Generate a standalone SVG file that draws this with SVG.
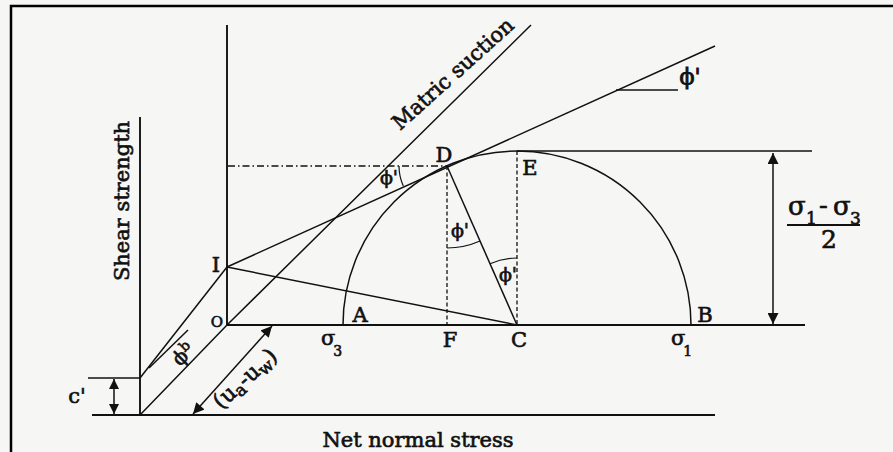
<svg xmlns="http://www.w3.org/2000/svg" width="893" height="452" viewBox="0 0 893 452">
  <defs>
    <marker id="ah" viewBox="0 0 10 10" refX="10" refY="5" markerWidth="12" markerHeight="11" markerUnits="userSpaceOnUse" orient="auto-start-reverse">
      <path d="M0,0 L10,5 L0,10 z" fill="#111"/>
    </marker>
    <marker id="ahs" viewBox="0 0 10 10" refX="10" refY="5" markerWidth="10" markerHeight="10" markerUnits="userSpaceOnUse" orient="auto-start-reverse">
      <path d="M0,0 L10,5 L0,10 z" fill="#111"/>
    </marker>
    <style>
      .ln { stroke: #111; stroke-width: 1.5; fill: none; }
      .ax { stroke: #111; stroke-width: 1.9; fill: none; }
      .dash { stroke: #111; stroke-width: 1.3; fill: none; stroke-dasharray: 4 2.5; }
      .dd { stroke: #111; stroke-width: 1.3; fill: none; stroke-dasharray: 7 3 1.5 3; }
      .arc { stroke: #111; stroke-width: 1.2; fill: none; }
      .t { font-family: "DejaVu Serif", "Liberation Serif", serif; font-size: 21px; fill: #111; stroke: #111; stroke-width: 0.65; }
      .m { text-anchor: middle; }
    </style>
  </defs>
  <rect x="0" y="0" width="893" height="452" fill="#f6f6f4"/>
  <path d="M11,453 V6 H893" stroke="#000" stroke-width="2.5" fill="none"/>

  <g id="axes">
    <path class="ax" d="M140,117 V415"/>
    <path class="ax" d="M227,25 V325"/>
    <path class="ax" d="M92,415 H715"/>
    <path class="ax" d="M227,325 H805"/>
    <path class="ln" d="M88,378 H140"/>
  </g>

  <g id="connectors">
    <path class="ln" d="M140,415 L227,325 L531,25"/>
    <path class="ln" d="M140,378 L227,267"/>
    <path class="ln" d="M149,368 L188,330"/>
    <path class="ln" d="M227,267 L715,46"/>
    <path class="ln" d="M227,267 L517,325"/>
    <path class="ln" d="M447,166 L517,325"/>
    <path class="ln" d="M616,90 H678"/>
    <path class="ln" d="M517,151 H812"/>
    <path class="ln" d="M343,325 A174,174 0 0 1 691,325"/>
    <path class="dd" d="M228,166 H447"/>
    <path class="dash" d="M447,166 V325"/>
    <path class="dash" d="M517,151 V325"/>
    <path class="arc" d="M399,166 A48,48 0 0 0 403.3,185.9"/>
    <path class="arc" d="M447,248 A82,82 0 0 0 480,241"/>
    <path class="arc" d="M490,263.7 A67,67 0 0 1 517,258"/>
    <path class="ln" d="M773,153 V324" marker-start="url(#ah)" marker-end="url(#ah)"/>
    <path class="ln" d="M114,379 V414" marker-start="url(#ahs)" marker-end="url(#ahs)"/>
    <path class="ln" d="M272,326 L193,414" marker-start="url(#ah)" marker-end="url(#ah)"/>
    <path d="M787,225 H860" stroke="#111" stroke-width="2"/>
  </g>

  <g id="labels">
    <text class="t m" x="444" y="162">D</text>
    <text class="t m" x="530" y="175">E</text>
    <text class="t m" x="360" y="322">A</text>
    <text class="t m" x="450" y="347">F</text>
    <text class="t m" x="519" y="347">C</text>
    <text class="t m" x="705" y="322">B</text>
    <text class="t m" x="216" y="272">I</text>
    <text class="t m" x="217" y="327" style="font-size:15px">O</text>
    <text class="t" x="321" y="345">σ<tspan style="font-size:14px" dx="-2" dy="11">3</tspan></text>
    <text class="t" x="671" y="345">σ<tspan style="font-size:14px" dx="-2" dy="11">1</tspan></text>
    <text class="t m" x="77" y="403">c'</text>
    <text class="t m" transform="translate(129,201) rotate(-90)">Shear strength</text>
    <text class="t m" x="418" y="447">Net normal stress</text>
    <text class="t" transform="translate(400,131) rotate(-42)">Matric suction</text>
    <text class="t m" x="389" y="184" style="font-size:19px">ϕ'</text>
    <text class="t m" x="460" y="237" style="font-size:19px">ϕ'</text>
    <text class="t m" x="508" y="281" style="font-size:19px">ϕ'</text>
    <text class="t m" x="690" y="84" style="font-size:22px;stroke-width:0.9">ϕ'</text>
    <text class="t" transform="translate(180,367) rotate(-45)" style="font-size:20px">ϕ<tspan style="font-size:14px" dy="-7">b</tspan></text>
    <text class="t" transform="translate(221,410) rotate(-42)" style="font-size:22px">(u<tspan style="font-size:17px" dy="4">a</tspan><tspan dy="-4">-u</tspan><tspan style="font-size:17px" dy="4">w</tspan><tspan dy="-4">)</tspan></text>
    <text class="t" style="font-size:26px"><tspan x="788" y="215">σ</tspan><tspan x="806" y="224" style="font-size:17px">1</tspan><tspan x="819" y="214">-</tspan><tspan x="833" y="215">σ</tspan><tspan x="850" y="224" style="font-size:17px">3</tspan></text>
    <text class="t m" x="829" y="248" style="font-size:25px">2</text>
  </g>
</svg>
